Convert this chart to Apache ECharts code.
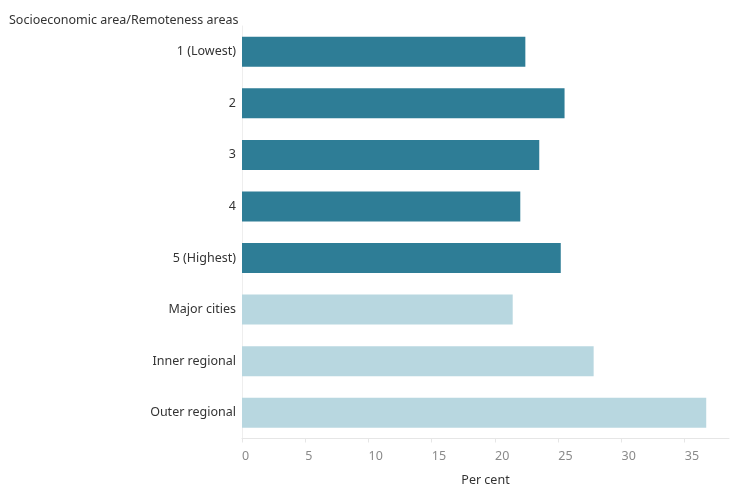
<!DOCTYPE html>
<html><head><meta charset="utf-8">
<script src="https://cdn.jsdelivr.net/npm/echarts@6/dist/echarts.min.js"></script>
<style>html,body{margin:0;padding:0;background:#fff}#c{width:734px;height:503px}</style>
</head><body><div id="c"></div>
<script>
const categories = ["1 (Lowest)", "2", "3", "4", "5 (Highest)", "Major cities", "Inner regional", "Outer regional"];
const values = [22.4, 25.5, 23.5, 22.0, 25.2, 21.4, 27.8, 36.7];
const groups = ["ses", "ses", "ses", "ses", "ses", "rem", "rem", "rem"];
const tickValues = [0, 5, 10, 15, 20, 25, 30, 35];
const colors = { ses: "#2E7D96", rem: "#B8D7E0" };
const font = "'Noto Sans', sans-serif";

const chart = echarts.init(document.getElementById('c'), null, { renderer: 'canvas' });
chart.setOption({
  animation: false,
  title: {
    text: "Socioeconomic area/Remoteness areas",
    left: 4, top: 9,
    textStyle: { fontFamily: font, fontSize: 12.5, fontWeight: 'normal', color: '#333' }
  },
  grid: { left: 242, right: 5, top: 26, bottom: 64.5 },
  xAxis: {
    type: 'value', min: 0, max: 38.5, interval: 5,
    name: 'Per cent', nameLocation: 'middle', nameGap: 35,
    nameTextStyle: { fontFamily: font, fontSize: 12.5, color: '#333' },
    axisLine: { show: true, lineStyle: { color: '#e6e6e6' } },
    axisTick: { show: true, length: 4, lineStyle: { color: '#e6e6e6' }, customValues: tickValues },
    axisLabel: { fontFamily: font, fontSize: 12.5, color: '#8a8a8a', align: 'left', margin: 11, customValues: tickValues },
    splitLine: { show: false }
  },
  yAxis: {
    type: 'category', data: categories, inverse: true,
    axisLine: { show: true, lineStyle: { color: '#eeeeee' } },
    axisTick: { show: false },
    axisLabel: { fontFamily: font, fontSize: 12.5, color: '#333', margin: 6 }
  },
  series: [{
    type: 'bar',
    barWidth: 30,
    data: values.map((v, i) => ({ value: v, itemStyle: { color: colors[groups[i]] } }))
  }]
});
</script>
</body></html>
